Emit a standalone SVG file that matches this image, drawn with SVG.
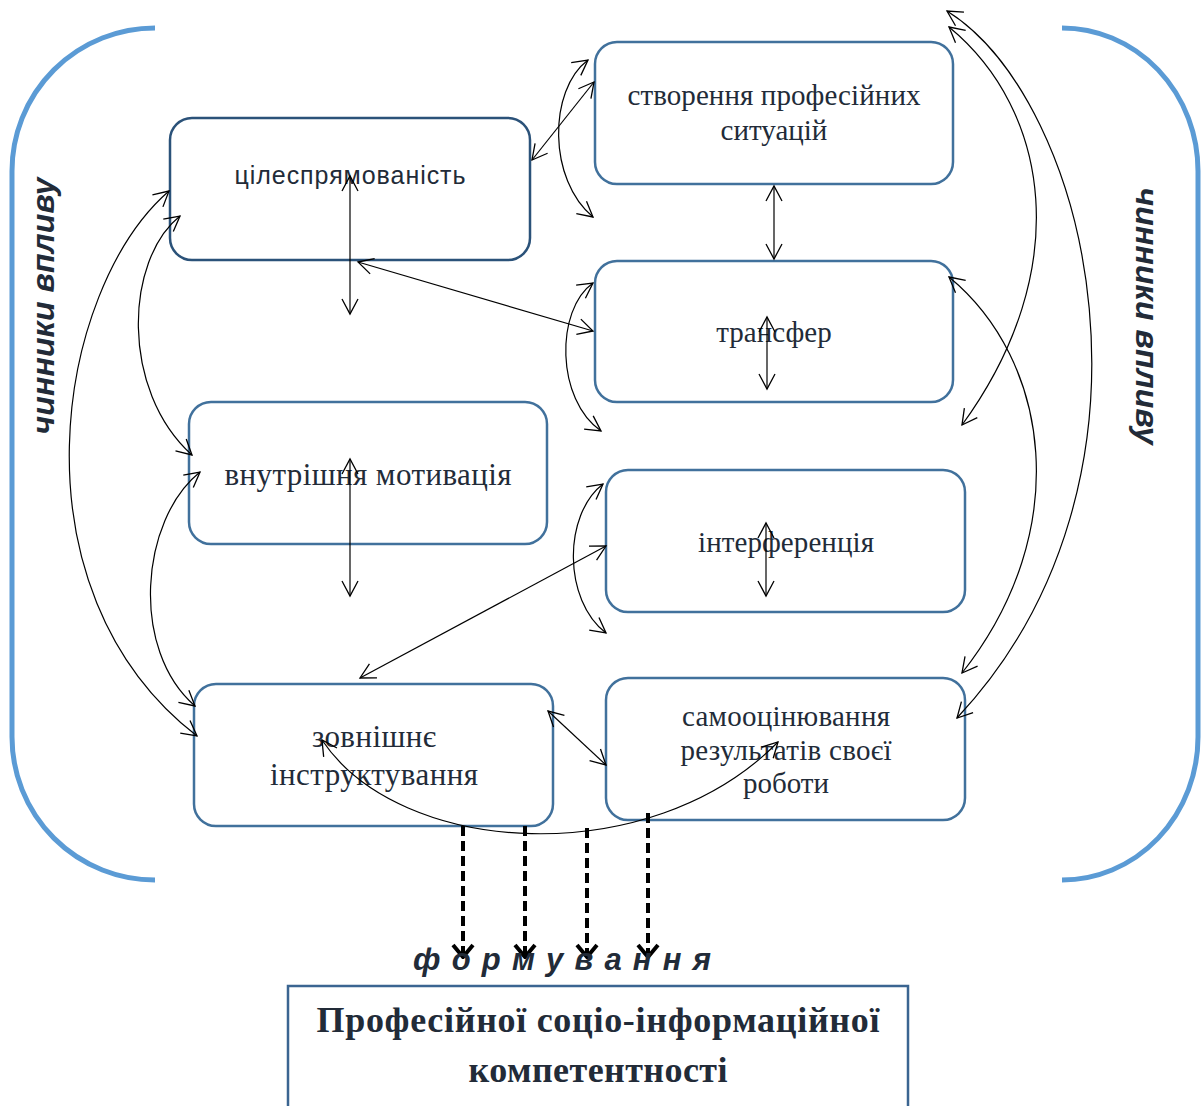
<svg xmlns="http://www.w3.org/2000/svg" width="1201" height="1106" viewBox="0 0 1201 1106">
<defs>
<style>
.box{fill:#fff;stroke:#41719c;stroke-width:2.5}
.box1{fill:#fff;stroke:#2b5279;stroke-width:2.5}
.br{fill:none;stroke:#5b9bd5;stroke-width:5}
.c{fill:none;stroke:#000;stroke-width:1.2;marker-start:url(#a);marker-end:url(#a)}
.d{fill:none;stroke:#000;stroke-width:4;stroke-dasharray:10 5;marker-end:url(#b)}
.t{font-family:"Liberation Serif","Times New Roman",serif;font-size:29px;fill:#222b38;text-anchor:middle}
.tl{font-size:31px}
.s{font-family:"Liberation Sans",Arial,sans-serif;font-size:25px;fill:#222b38;text-anchor:middle}
.side{font-family:"Liberation Sans",Arial,sans-serif;font-size:32px;font-weight:bold;font-style:italic;fill:#222b38;text-anchor:middle}
.f{font-family:"Liberation Sans",Arial,sans-serif;font-size:31px;font-weight:bold;font-style:italic;fill:#222b38}
.big{font-family:"Liberation Serif","Times New Roman",serif;font-size:36px;font-weight:bold;fill:#222b38;text-anchor:middle}
</style>
<marker id="a" viewBox="-17 -10 19 20" refX="0" refY="0" markerWidth="19" markerHeight="20" markerUnits="userSpaceOnUse" orient="auto-start-reverse">
<path d="M-15,-8 L0,0 L-15,8" fill="none" stroke="#000" stroke-width="1.3"/>
</marker>
<marker id="b" viewBox="-14 -12 16 24" refX="0" refY="0" markerWidth="16" markerHeight="24" markerUnits="userSpaceOnUse" orient="auto">
<path d="M-12,-10 L0,0 L-12,10" fill="none" stroke="#000" stroke-width="4"/>
</marker>
</defs>

<g id="brackets">
<path class="br" d="M155,28 A143,143 0 0 0 12,171 L12,737 A143,143 0 0 0 155,880"/>
<path class="br" d="M1062,28 A136,143 0 0 1 1198,171 L1198,737 A136,143 0 0 1 1062,880"/>
</g>

<g id="side-labels">
<text class="side" transform="translate(54,306) rotate(-90)" textLength="257">чинники впливу</text>
<text class="side" transform="translate(1136,316) rotate(90)" textLength="257">чинники впливу</text>
</g>

<g id="n1"><rect class="box1" x="170" y="118" width="360" height="142" rx="22"/><text class="s" x="350" y="184" textLength="231">цілеспрямованість</text></g>
<g id="n2"><rect class="box" x="595" y="42" width="358" height="142" rx="22"/><text class="t" x="774" y="105" textLength="293">створення професійних</text><text class="t" x="774" y="140">ситуацій</text></g>
<g id="n3"><rect class="box" x="595" y="261" width="358" height="141" rx="22"/><text class="t" x="774" y="342">трансфер</text></g>
<g id="n4"><rect class="box" x="189" y="402" width="358" height="142" rx="22"/><text class="t tl" x="368" y="485" textLength="287">внутрішня мотивація</text></g>
<g id="n5"><rect class="box" x="606" y="470" width="359" height="142" rx="22"/><text class="t" x="786" y="552" textLength="176">інтерференція</text></g>
<g id="n6"><rect class="box" x="194" y="684" width="359" height="142" rx="22"/><text class="t tl" x="374" y="747" textLength="124">зовнішнє</text><text class="t tl" x="374" y="785" textLength="208">інструктування</text></g>
<g id="n7"><rect class="box" x="606" y="678" width="359" height="142" rx="22"/><text class="t" x="786" y="726" textLength="208">самооцінювання</text><text class="t" x="786" y="760" textLength="211">результатів своєї</text><text class="t" x="786" y="793">роботи</text></g>

<g id="connectors">
<line class="c" x1="350" y1="176" x2="350" y2="314"/>
<line class="c" x1="532" y1="160" x2="594" y2="82"/>
<line class="c" x1="358" y1="262" x2="593" y2="331"/>
<line class="c" x1="774" y1="186" x2="774" y2="259"/>
<line class="c" x1="767" y1="317" x2="767" y2="389"/>
<line class="c" x1="350" y1="459" x2="350" y2="596"/>
<line class="c" x1="766" y1="523" x2="766" y2="596"/>
<line class="c" x1="360" y1="678" x2="606" y2="546"/>
<line class="c" x1="548" y1="711" x2="606" y2="765"/>
<path class="c" d="M588,60 C548,90 548,180 593,217"/>
<path class="c" d="M593,283 C555,310 556,400 601,431"/>
<path class="c" d="M603,484 C563,515 563,600 606,633"/>
<path class="c" d="M169,191 C55,290 8,590 197,736"/>
<path class="c" d="M180,216 C125,260 120,390 192,455"/>
<path class="c" d="M200,472 C140,520 130,650 195,706"/>
<path class="c" d="M947,11 C1090,100 1180,480 957,718"/>
<path class="c" d="M949,27 C1050,110 1075,270 962,425"/>
<path class="c" d="M949,277 C1050,360 1075,530 962,673"/>
<path class="c" d="M322,740 C400,857 650,872 778,742"/>
<line class="d" x1="463" y1="826" x2="463" y2="957"/>
<line class="d" x1="525" y1="826" x2="525" y2="957"/>
<line class="d" x1="587" y1="828" x2="587" y2="957"/>
<line class="d" x1="648" y1="813" x2="648" y2="957"/>
</g>

<g id="label-formuvannya">
<text class="f" x="413" y="970" textLength="298">ф о р м у в а н н я</text>
</g>

<g id="n8">
<rect x="288" y="986" width="620" height="140" fill="#fff" stroke="#3b6591" stroke-width="2.5"/>
<text class="big" x="598" y="1032" textLength="563">Професійної соціо-інформаційної</text>
<text class="big" x="598" y="1082" textLength="259">компетентності</text>
</g>
</svg>
